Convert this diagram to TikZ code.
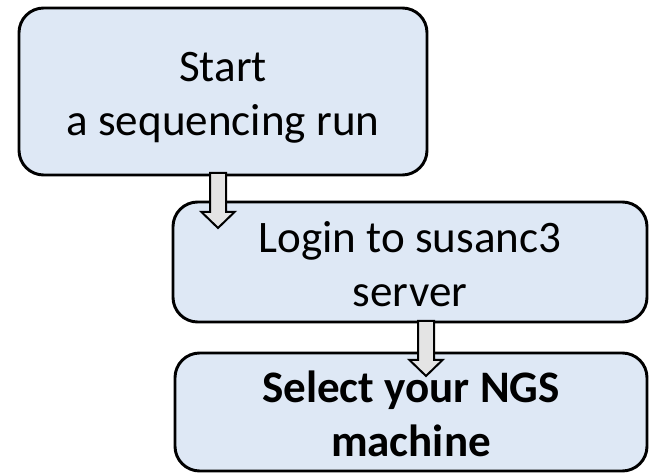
\documentclass[tikz,border=0pt]{standalone}
\usepackage{fontspec}
\setmainfont{Carlito}
\usetikzlibrary{calc}
\definecolor{boxfill}{HTML}{DEE8F5}
\definecolor{arrowfill}{HTML}{E4E4E4}
% struts: a tall first line and a shallow last line set the text a little low
\newcommand\firststrut{\rule[-6.75pt]{0pt}{40.5pt}}
\newcommand\laststrut{\rule[-7.5pt]{0pt}{27pt}}
\begin{document}
\begin{tikzpicture}[x=0.75pt,y=-0.75pt,
  stepbox/.style={draw=black, line width=2.2pt, fill=boxfill,
    rounded corners=18.5pt, inner sep=0pt, outer sep=0pt, align=center,
    font=\fontsize{33.8}{40.5}\selectfont},
  blockarrow/.style={draw=black, line width=1.5pt, fill=arrowfill,
    line join=miter}]
\useasboundingbox (0,0) rectangle (650,473);

% the three steps
\node[stepbox, minimum width=306pt, minimum height=125.25pt] (start) at (223,91.5)
  {\firststrut Start\\\laststrut a sequencing run};
\node[stepbox, minimum width=355.5pt, minimum height=90pt] (login) at (410,262)
  {\firststrut Login to susanc3\\\laststrut server};
\node[stepbox, minimum width=354pt, minimum height=88.5pt] (select) at (411,412)
  {\firststrut\bfseries Select your NGS\\\laststrut\bfseries machine};

% block arrows between the steps
\coordinate (a1top) at ($(start.south)+(-5,-2)$);
\coordinate (a1tip) at ($(a1top |- login.north)+(0,26)$);
\coordinate (a2top) at ($(login.south)+(16,-1)$);
\coordinate (a2tip) at ($(a2top |- select.north)+(0,23)$);

\foreach \t/\h in {a1top/a1tip, a2top/a2tip}{
  \draw[blockarrow] let \p1=(\t), \p2=(\h) in
    (\x1-6pt,\y1) -- (\x1-6pt,\y2+12pt) -- (\x1-12.4pt,\y2+12pt) -- (\p2)
    -- (\x1+12.4pt,\y2+12pt) -- (\x1+6pt,\y2+12pt) -- (\x1+6pt,\y1) -- cycle;
}
\end{tikzpicture}
\end{document}
